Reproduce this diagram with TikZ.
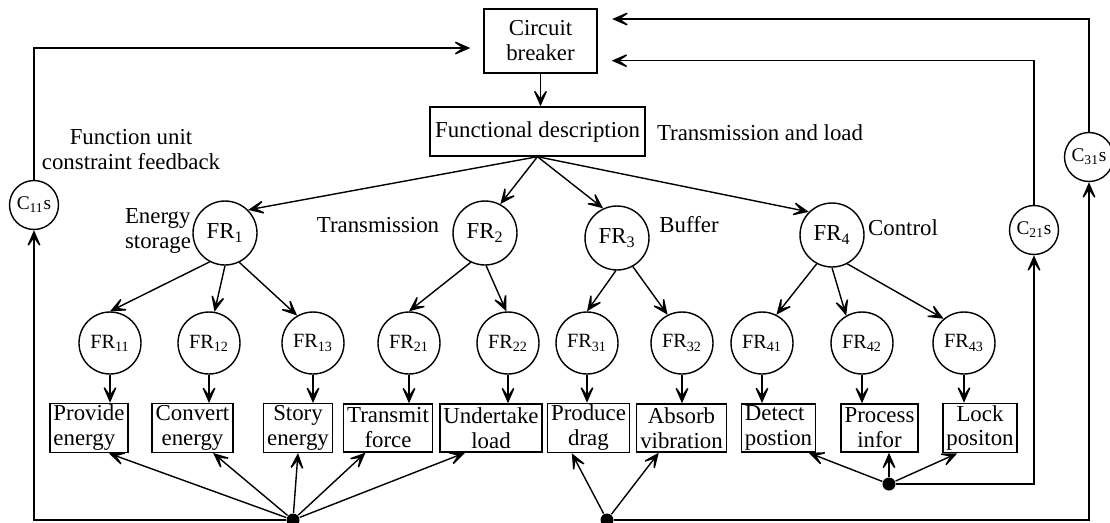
\documentclass[tikz,border=0pt]{standalone}
\usepackage{fontspec}
\setmainfont{Liberation Serif}
\usetikzlibrary{arrows.meta,calc}

\tikzset{
	block/.style={draw, inner xsep=2pt, inner ysep=1pt, minimum height=0.96cm, align=center},
	frnode/.style={draw, circle, inner sep=0pt, minimum size=1.28cm},
	subfr/.style={frnode, minimum size=1.24cm, font=\fontsize{11.5}{12}\selectfont},
	cnode/.style={frnode, minimum size=0.98cm, font=\fontsize{11}{12}\selectfont},
	junction/.style={circle, fill, inner sep=0pt, minimum size=0.26cm}
}

\begin{document}
\begin{tikzpicture}[x=0.02cm, y=-0.02cm, line width=0.8pt,
	>={Stealth[length=12pt, width=10.5pt, inset=7.5pt]},
	font=\fontsize{13}{14.2}\selectfont]
	\useasboundingbox (0,0) rectangle (1110,522);

	\node [block, minimum width=2.26cm, minimum height=1.28cm] (cb) at (540.5,41) {Circuit\\breaker};
	\node [block, minimum width=4.3cm, minimum height=0.98cm] (fd) at (537.5,131.5) {Functional description};

	\node (tl) at (760,133) {Transmission and load};
	\node [align=center] (fucf) at (131,150) {Function unit\\constraint feedback};
	\node [align=left] (les) at (158,231) {Energy\\storage};
	\node (ltr) at (378,225) {Transmission};
	\node (lbu) at (689,225) {Buffer};
	\node (lco) at (903,228) {Control};

	\node [frnode] (fr1) at (225,233) {FR\textsubscript{1}};
	\node [frnode] (fr2) at (485,233) {FR\textsubscript{2}};
	\node [frnode] (fr3) at (617,238) {FR\textsubscript{3}};
	\node [frnode] (fr4) at (832,235) {FR\textsubscript{4}};

	\foreach \n/\x in {11/110, 12/209, 13/313, 21/409, 22/508, 31/587, 32/682, 41/762, 42/862, 43/964}
		\node [subfr] (fr\n) at (\x,343) {FR\textsubscript{\n}};

	\node [block, align=left] (prov) at (89,428) {Provide\\energy};
	\node [block] (conv) at (192.5,428) {Convert\\energy};
	\node [block] (stor) at (298,428) {Story\\energy};
	\node [block] (tran) at (388,428) {Transmit\\force};
	\node [block] (undr) at (491,428) {Undertake\\load};
	\node [block] (prod) at (588.5,428) {Produce\\drag};
	\node [block] (absb) at (681.5,428) {Absorb\\vibration};
	\node [block, align=left] (detc) at (778.5,428) {Detect\\postion};
	\node [block] (proc) at (879.5,428) {Process\\infor};
	\node [block] (lock) at (980,428) {Lock\\positon};

	\node [cnode] (c11) at (34,205) {C\textsubscript{11}s};
	\node [cnode] (c21) at (1034,230) {C\textsubscript{21}s};
	\node [cnode] (c31) at (1089,157) {C\textsubscript{31}s};

	\node [junction] (ja) at (293,520) {};
	\node [junction] (jb) at (607,520) {};
	\node [junction] (jc) at (889,484) {};

	\draw
		[->] (cb) -- (cb |- fd.north);

	\draw
		[->] (fd.south) -- (fr1.45);
	\draw
		[->] (fd.south) -- (fr2.62);
	\draw
		[->] (fd.south) -- (fr3.115);
	\draw
		[->] (fd.south) -- (fr4.135);

	\draw
		[->] (fr1.-118) -- (fr11.north);
	\draw
		[->] (fr1.-90) -- (fr12.80);
	\draw
		[->] (fr1.-64) -- (fr13.120);
	\draw
		[->] (fr2.-116) -- (fr21.north);
	\draw
		[->] (fr2.-88) -- (fr22.93);
	\draw
		[->] (fr3.-92) -- (fr31.north);
	\draw
		[->] (fr3.-61) -- (fr32.117);
	\draw
		[->] (fr4.-118) -- (fr41.63);
	\draw
		[->] (fr4.-90) -- (fr42.120);
	\draw
		[->] (fr4.-62) -- (fr43.130);

	\foreach \c/\b in {fr11/prov, fr12/conv, fr13/stor, fr21/tran, fr22/undr, fr31/prod, fr32/absb, fr41/detc, fr42/proc, fr43/lock}
		\draw
			[->] (\c) -- (\c |- \b.north);

	\foreach \b/\f in {prov/0.75, conv/0.75, stor/0.5, tran/0.25, undr/0.25}
		\draw
			[->] (ja) -- ($(\b.south west)!\f!(\b.south east)$);

	\foreach \b/\f in {prod/0.3, absb/0.25}
		\draw
			[->] (jb) -- ($(\b.south west)!\f!(\b.south east)$);

	\foreach \b/\f in {detc/0.9, lock/0.2}
		\draw
			[->] (jc) -- ($(\b.south west)!\f!(\b.south east)$);

	\draw
		[->] (jc) -- (jc |- proc.south);

	\draw
		[->] (ja) -| (c11);
	\draw
		[->, shorten >=0.26cm] (c11) |- (cb.187);

	\draw
		[->] (jc) -| (c21);
	\draw
		[->, shorten >=0.28cm] (c21) |- (cb.-19);

	\draw
		[->] (jb) -| (c31);
	\draw
		[->, shorten >=0.29cm] (c31) |- (cb.21);
\end{tikzpicture}
\end{document}
